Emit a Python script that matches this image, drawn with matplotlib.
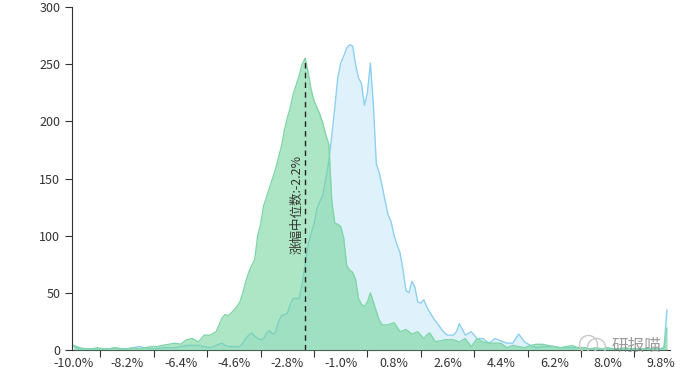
import numpy as np
import matplotlib.pyplot as plt

plt.rcParams['font.family'] = ['Noto Sans CJK SC', 'DejaVu Sans']

# x grid (%): coarse in the tails, fine in the middle
x_left = np.round(np.arange(-10.0, -5.05, 0.2), 1)
x_mid = np.round(np.arange(-5.0, 3.05, 0.1), 1)
x_right = np.round(np.arange(3.2, 9.85, 0.2), 1)
x_end = [9.9, 10.0]
x = np.concatenate([x_left, x_mid, x_right, x_end])

# green series (today)
green = [4, 2, 1, 1, 2, 1, 1, 2, 1, 1, 2, 1, 2, 3, 3, 4, 5, 6, 5, 9, 10, 7, 13, 13, 16,
         28, 31, 30, 32, 35, 38, 42, 50, 60, 68,
         74, 79, 100, 110, 126, 134, 142, 150, 158, 168,
         178, 192, 203, 212, 224, 232, 240, 250, 255, 243,
         228, 218, 212, 206, 198, 188, 180, 130, 111, 110,
         108, 98, 74, 70, 68, 62, 45, 40, 38, 42,
         50, 42, 34, 26, 22, 22, 22, 23, 24, 20,
         16, 17, 18, 16, 14, 15, 16, 13, 10, 13,
         15, 11, 7, 8, 8, 9, 9, 9, 9, 8,
         7,
         10, 3, 10, 7, 6, 6, 6, 2, 4, 3,
         2, 4, 5, 5, 4, 3, 2, 3, 4, 2,
         2, 1, 2, 1, 2, 1, 1, 2, 1, 1,
         1, 1, 1, 1,
         2, 19]

# blue series (comparison)
blue = [3, 1, 1, 1, 1, 1, 1, 2, 1, 1, 2, 3, 2, 1, 1, 2, 2, 2, 3, 4, 4, 4, 3, 2, 4,
        6, 4, 3, 3, 3, 3, 3, 6, 10, 13,
        15, 12, 10, 9, 10, 15, 17, 14, 15, 25,
        30, 31, 32, 40, 45, 45, 45, 58, 75, 92,
        102, 110, 124, 130, 136, 150, 165, 188, 212, 238,
        251, 257, 264, 267, 266, 250, 238, 233, 214, 225,
        251, 215, 163, 155, 143, 130, 118, 112, 100, 92,
        85, 70, 52, 50, 60, 55, 42, 41, 44, 38,
        33, 29, 25, 22, 18, 15, 13, 13, 13, 16,
        23,
        13, 16, 10, 10, 6, 10, 8, 6, 6, 14,
        7, 4, 2, 3, 3, 3, 2, 2, 2, 2,
        2, 1, 1, 1, 1, 1, 1, 1, 1, 1,
        1, 1, 1, 1,
        3, 35]

median = -2.2
median_top = 255
label_vals = np.round(np.arange(-10.0, 9.85, 1.8), 1)
tick_vals = label_vals[:-1] + 0.9

fig = plt.figure(figsize=(6.83, 3.80), dpi=100)
ax = fig.add_axes([0.1054, 0.0789, 0.8755, 0.9026])

ax.fill_between(x, blue, 0, color='#dff2fb', lw=0, zorder=1)
ax.plot(x, blue, color='#8dd0f2', lw=1, zorder=2)
ax.fill_between(x, green, 0, color='#6ed396', alpha=0.56, lw=0, zorder=3)
ax.plot(x, green, color='#80d6a8', lw=1, zorder=4)

# median marker line from the axis up to the green peak
ax.vlines(median, 0, median_top, color='#222222', lw=1, ls=(0, (4, 3)), zorder=5)
ax.text(median - 0.28, 127, '涨幅中位数:-2.2%', rotation=90, ha='center', va='center',
        fontsize=9, color='#333333', zorder=6)

# watermark
ax.plot([7.35, 7.6], [5, 3], 'o', ms=13, mfc='none', mec='#c8c8c8', mew=1, zorder=6)
ax.text(9.8, 3, '研报喵', ha='right', va='center', fontsize=12, color='#8a8a8a',
        alpha=0.85, zorder=6)

ax.set_xlim(-10.06, 10.1)
ax.set_ylim(0, 300)
ax.set_yticks(np.arange(0, 301, 50))
ax.set_xticks(tick_vals)
ax.set_xticklabels([])
ax.set_xticks(label_vals, minor=True)
ax.set_xticklabels([f'{v:.1f}%' for v in label_vals], minor=True)
ax.tick_params(axis='x', which='major', length=5, color='#333333')
ax.tick_params(axis='x', which='minor', length=0, pad=5, labelsize=9, labelcolor='#333333')
ax.tick_params(axis='y', length=5, color='#333333', labelsize=9, labelcolor='#333333')

for s in ['top', 'right']:
    ax.spines[s].set_visible(False)
for s in ['left', 'bottom']:
    ax.spines[s].set_color('#333333')

fig.savefig('out.png', dpi=100)
